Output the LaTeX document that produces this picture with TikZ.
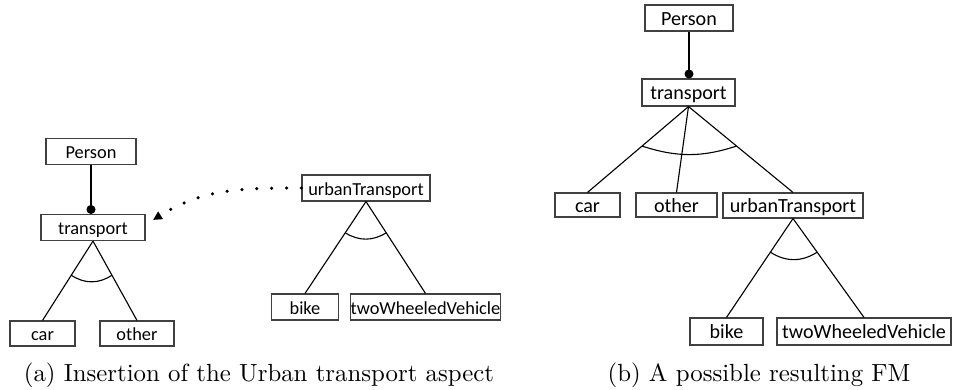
\documentclass[tikz,border=0pt]{standalone}
\usepackage{fontspec}
\newfontfamily\featfont{Carlito}
\usepackage{tikz}
\usetikzlibrary{calc,positioning,arrows.meta}

\newcommand{\px}{0.403pt}
\tikzset{
	feat/.style={draw=black!75,line width=0.45pt,inner sep=0pt,
		minimum height=26*\px,text height=7pt,text depth=1pt},
	small/.style={font=\featfont\fontsize{7.4}{9}\selectfont},
	large/.style={font=\featfont\fontsize{8.1}{10}\selectfont},
	mand/.style={line width=0.45pt,-{Circle[length=3.6pt]}},
	group/.style={line width=0.45pt},
	insert/.style={line width=1.4pt,line cap=round,dash pattern=on 0pt off 6pt,
		-{Triangle[length=3.6pt,width=3.4pt]}},
}

\begin{document}
\begin{tikzpicture}[x=\px,y=-\px]
	\useasboundingbox (0,0) rectangle (956,390);
	% (a) the aspect beside the base model
	\begin{scope}[every node/.append style=small]
		\node(pa) [feat,minimum width=90*\px] at (91,151.5) {Person};
		\node(ta) [feat,minimum width=104*\px] at (93,227.5) {transport};
		\node(ca) [feat,minimum width=65*\px,minimum height=25*\px] at (42.5,333.5) {car};
		\node(oa) [feat,minimum width=74*\px,minimum height=25*\px] at (137,333.5) {other};
		\node(ua) [feat,minimum width=128*\px] at (366,188) {urbanTransport};
		\node(ba) [feat,minimum width=67*\px] at (305,307) {bike};
		\node(wa) [feat,minimum width=147*\px] at (425.5,307) {twoWheeledVehicle};
	\end{scope}
	\draw[mand] (pa.south) -- (pa.south |- ta.north);
	\path[group]
		(ta.south) edge (ca.north)
		(ta.south) edge (oa.north)
		(ua.south) edge (ba.north)
		(ua.south) edge (wa.north);
	\draw[group] ($(ta.south)!.43!(ca.north)$) to[bend right=34] ($(ta.south)!.43!(oa.north)$);
	\draw[group] ($(ua.south)!.34!(ba.north)$) to[bend right=32] ($(ua.south)!.34!(wa.north)$);
	\coordinate (drop) at (153,220);
	\draw[insert] (ua.west) to[out=180,in=32] (drop);
	\node(capa) [anchor=base] at (259,382) {(a) Insertion of the Urban transport aspect};

	% (b) the merged model
	\begin{scope}[every node/.append style=large]
		\node(pb) [feat,minimum width=88*\px] at (689,18) {Person};
		\node(tb) [feat,minimum width=93*\px,minimum height=27*\px] at (688.5,92.5) {transport};
		\node(cb) [feat,minimum width=65*\px,minimum height=24*\px] at (587.5,205) {car};
		\node(ob) [feat,minimum width=81*\px,minimum height=24*\px] at (676.5,205) {other};
		\node(ub) [feat,minimum width=140*\px,minimum height=25*\px] at (793,205.5) {urbanTransport};
		\node(bb) [feat,minimum width=73*\px,minimum height=27*\px] at (726.5,331.5) {bike};
		\node(wb) [feat,minimum width=174*\px,minimum height=27*\px] at (864,331.5) {twoWheeledVehicle};
	\end{scope}
	\draw[mand] (pb.south) -- (pb.south |- tb.north);
	\path[group]
		(tb.south) edge (cb.north)
		(tb.south) edge (ob.north)
		(tb.south) edge (ub.north)
		(ub.south) edge (bb.north)
		(ub.south) edge (wb.north);
	\draw[group] ($(tb.south)!.46!(cb.north)$) to[bend right=18] ($(tb.south)!.46!(ub.north)$);
	\draw[group] ($(ub.south)!.34!(bb.north)$) to[bend right=33] ($(ub.south)!.34!(wb.north)$);
	\node(capb) [anchor=base] at (759,382) {(b) A possible resulting FM};
\end{tikzpicture}
\end{document}
